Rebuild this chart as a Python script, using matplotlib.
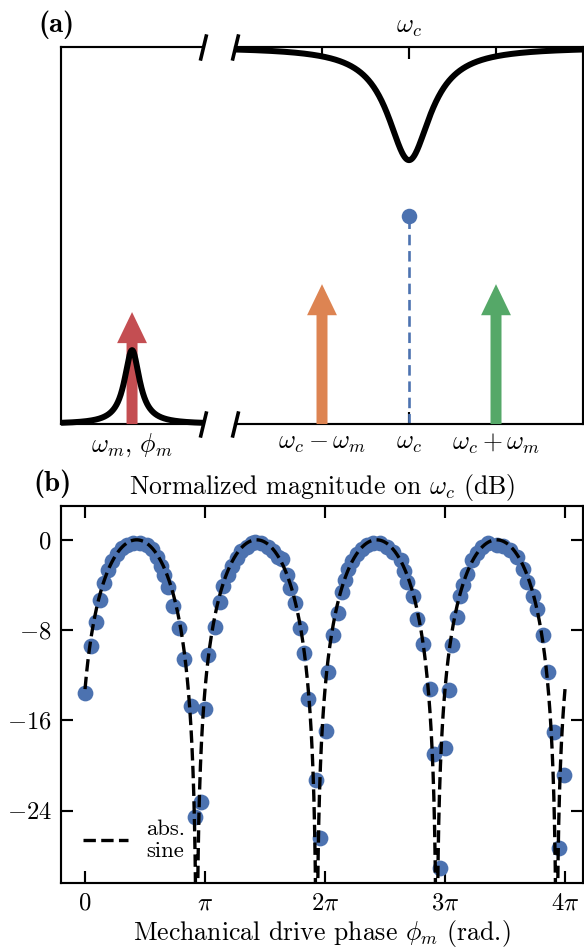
import numpy as np
import matplotlib.pyplot as plt

# measured points, panel (b): phase in units of pi, magnitude in dB
phase_pi = [0.0, 0.047, 0.089, 0.125, 0.161, 0.194, 0.228, 0.264, 0.306, 0.347,
            0.40, 0.458, 0.514, 0.556, 0.597, 0.633, 0.661, 0.694, 0.736, 0.786,
            0.828, 0.881, 0.915, 0.967, 1.0,
            1.028, 1.083, 1.125, 1.153, 1.194, 1.222, 1.264, 1.297, 1.347, 1.39,
            1.417, 1.47, 1.528, 1.569, 1.61, 1.64, 1.686, 1.708, 1.75, 1.79,
            1.825, 1.861, 1.929, 1.96, 2.007,
            2.028, 2.069, 2.111, 2.139, 2.167, 2.194, 2.222, 2.264, 2.306, 2.347,
            2.403, 2.458, 2.514, 2.569, 2.63, 2.658, 2.681, 2.736, 2.764, 2.819,
            2.875, 2.912, 2.96, 2.997,
            3.03, 3.056, 3.097, 3.125, 3.153, 3.18, 3.222, 3.264, 3.306, 3.36,
            3.43, 3.486, 3.54, 3.597, 3.65, 3.686, 3.736, 3.764, 3.819, 3.86,
            3.91, 3.95, 3.99]
mag_db = [-13.6, -9.4, -7.3, -5.3, -3.8, -2.7, -1.9, -1.3, -0.74, -0.44,
          -0.24, -0.3, -0.44, -0.83, -1.5, -2.3, -3.1, -4.2, -5.9, -7.85,
          -10.6, -14.7, -24.6, -23.2, -15.0,
          -10.2, -7.7, -5.5, -4.1, -3.1, -2.3, -1.6, -1.0, -0.65, -0.3,
          -0.15, -0.3, -0.65, -0.95, -1.5, -1.7, -3.1, -4.3, -5.6, -7.85,
          -10.0, -14.1, -21.3, -26.4, -16.9,
          -11.7, -8.4, -6.5, -4.6, -3.6, -2.6, -1.9, -1.3, -0.8, -0.5,
          -0.3, -0.3, -0.6, -1.1, -1.8, -2.8, -3.7, -5.0, -7.0, -9.2,
          -13.2, -19.0, -29.1, -18.4,
          -13.3, -9.3, -6.8, -5.0, -4.0, -3.0, -1.8, -1.2, -0.6, -0.24,
          -0.44, -0.53, -0.9, -1.5, -2.6, -3.7, -5.0, -6.1, -8.4, -11.7,
          -17.0, -27.3, -20.8]

# abs. sine model
fit_phase_offset = 0.07 * np.pi

xticks_b = [0, np.pi, 2*np.pi, 3*np.pi, 4*np.pi]
xticklabels_b = [r'$0$', r'$\pi$', r'$2\pi$', r'$3\pi$', r'$4\pi$']
yticks_b = [0, -8, -16, -24]
yticklabels_b = [r'$0$', r'$-8$', r'$-16$', r'$-24$']

# schematic, panel (a)
tone_pos = [-1, 0, 1]
tone_labels = [r'$\omega_c - \omega_m$', r'$\omega_c$', r'$\omega_c + \omega_m$']
sideband_height = 0.371
drive_height = 0.297
carrier_height = 0.552
mech_peak, mech_width = 0.196, 0.13
cav_depth, cav_width = 0.30, 0.30

blue, orange, green, red = '#4C72B0', '#DD8452', '#55A868', '#C44E52'

plt.rcParams.update({
    'font.family': 'serif',
    'font.serif': ['cmr10'],
    'mathtext.fontset': 'cm',
    'axes.formatter.use_mathtext': True,
    'axes.linewidth': 0.9,
    'font.size': 10,
})

fig = plt.figure(figsize=(584/172, 948/172), dpi=172)

axL = fig.add_axes([0.1045, 0.5527, 0.2432, 0.3977])
axR = fig.add_axes([0.4024, 0.5527, 0.5959, 0.3977])
axB = fig.add_axes([0.1045, 0.0686, 0.8938, 0.3977])

arrow_style = 'simple,head_length=1.3,head_width=1.25,tail_width=0.46'

# ---- panel (a), left part: mechanical mode
xm = np.linspace(-1, 1, 801)
ym = mech_peak * mech_width**2 / (xm**2 + mech_width**2)
axL.annotate('', xy=(0, drive_height), xytext=(0, 0),
             arrowprops=dict(arrowstyle=arrow_style, color=red, shrinkA=0, shrinkB=0,
                             mutation_scale=10, lw=0))
axL.plot(xm, ym, color='k', lw=2.5, clip_on=False, zorder=5, solid_capstyle='butt')
axL.set_xlim(-1, 1)
axL.set_ylim(0, 1)
axL.spines['right'].set_visible(False)
axL.set_yticks([])
axL.set_xticks([0], [r'$\omega_m,\,\phi_m$'], fontsize=10.8)
axL.tick_params(axis='x', direction='in', length=5, width=0.9, pad=3.2)

# ---- panel (a), right part: cavity
xc = np.linspace(-2, 2, 801)
yc = 1 - cav_depth * cav_width**2 / (xc**2 + cav_width**2)
axR.plot(xc, yc, color='k', lw=2.5, clip_on=False, zorder=5, solid_capstyle='butt')
for x, c in zip([tone_pos[0], tone_pos[2]], [orange, green]):
    axR.annotate('', xy=(x, sideband_height), xytext=(x, 0),
                 arrowprops=dict(arrowstyle=arrow_style, color=c, shrinkA=0, shrinkB=0,
                                 mutation_scale=10, lw=0))
axR.plot([0, 0], [0, carrier_height], ls='--', color=blue, lw=1.1, dashes=(4, 2.2))
axR.plot([0], [carrier_height], 'o', color=blue, ms=6.5, mew=0)
axR.set_xlim(-2, 2)
axR.set_ylim(0, 1)
axR.spines['left'].set_visible(False)
axR.set_yticks([])
axR.set_xticks(tone_pos, tone_labels, fontsize=10.8)
axR.tick_params(axis='x', direction='in', top=True, length=5, width=0.9, pad=3.2)
axR.annotate(r'$\omega_c$', xy=(0, 1), xycoords=('data', 'axes fraction'),
             xytext=(0, 3.5), textcoords='offset points', ha='center', va='bottom',
             fontsize=10.8)

# break marks
kw = dict(marker=[(-0.24, -1), (0.24, 1)], markersize=11, linestyle='none',
          color='k', mec='k', mew=1.5, clip_on=False)
axL.plot([1, 1], [0, 1], transform=axL.transAxes, **kw)
axR.plot([0, 0], [0, 1], transform=axR.transAxes, **kw)

# ---- panel (b)
phase = np.array(phase_pi) * np.pi
axB.plot(phase, mag_db, 'o', color=blue, ms=6.6, mew=0, zorder=2)
xf = np.linspace(0, 4*np.pi, 8001)
yf = 20 * np.log10(np.abs(np.sin(xf + fit_phase_offset)) + 1e-12)
fit_line, = axB.plot(xf, yf, ls='--', color='k', lw=1.4, zorder=3)
axB.set_xlim(-0.2*np.pi, 4.15*np.pi)
axB.set_ylim(-30.4, 3.0)
axB.set_xticks(xticks_b, xticklabels_b, fontsize=10.3)
axB.set_yticks(yticks_b, yticklabels_b, fontsize=10.3)
axB.tick_params(direction='in', top=True, right=True, length=5, width=0.9, pad=4)
axB.set_title(r'Normalized magnitude on $\omega_c$ (dB)', fontsize=10.8, pad=5)
axB.set_xlabel(r'Mechanical drive phase $\phi_m$ (rad.)', fontsize=10.8, labelpad=1.5)
axB.legend([fit_line], ['abs.\nsine'], loc='lower left', frameon=False, fontsize=9.5,
           handlelength=2.0, handletextpad=0.8, borderaxespad=0.55, labelspacing=0.3)

fig.text(56/584, 1 - 25/948, '(a)', ha='center', va='center', fontsize=12,
         family='cmb10')
fig.text(53/584, 1 - 484/948, '(b)', ha='center', va='center', fontsize=12,
         family='cmb10')

fig.savefig('out.png', dpi=172)
